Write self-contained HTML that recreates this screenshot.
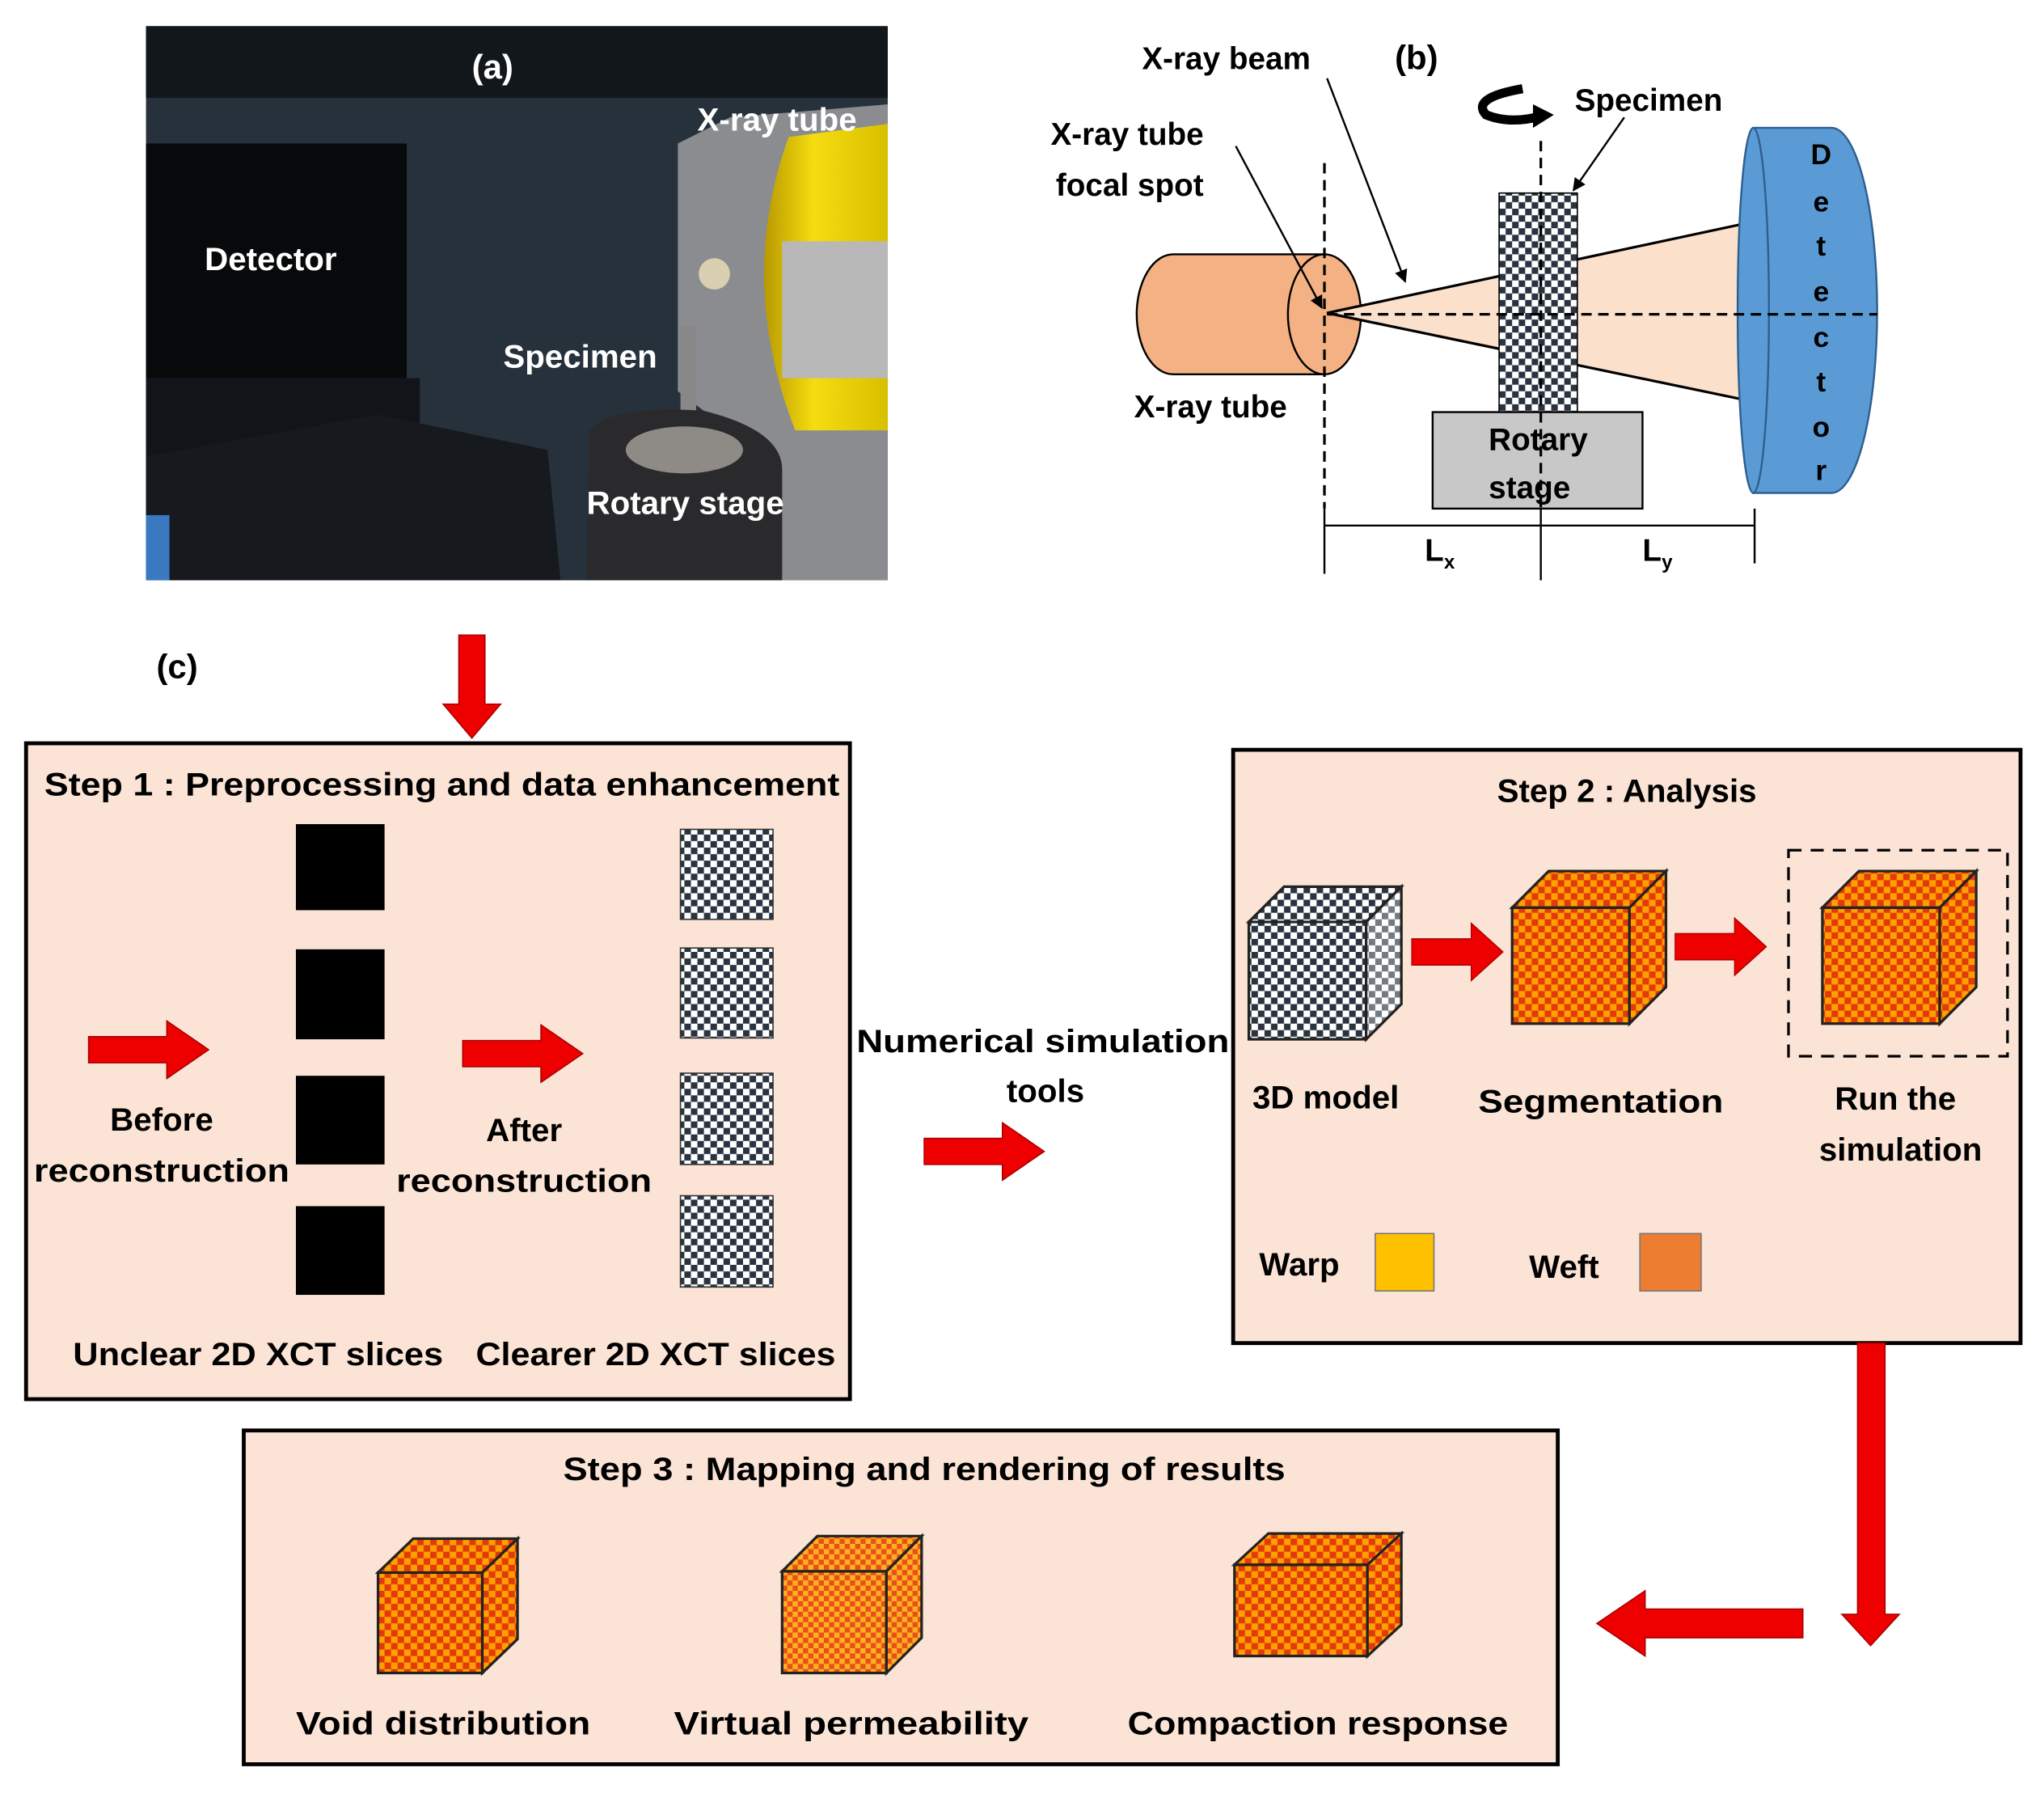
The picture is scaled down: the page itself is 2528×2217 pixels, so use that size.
<!DOCTYPE html>
<html><head><meta charset="utf-8"><style>
html,body{margin:0;padding:0;background:#fff}
svg{display:block}
text{font-family:"Liberation Sans",sans-serif;font-weight:bold}
</style></head><body>
<svg width="2528" height="2217" viewBox="0 0 1568 1375" xmlns="http://www.w3.org/2000/svg">
<defs>
<pattern id="gc" width="10" height="10" patternUnits="userSpaceOnUse"><rect width="10" height="10" fill="#fff"/><rect width="5" height="5" fill="#2a3340"/><rect x="5" y="5" width="5" height="5" fill="#2a3340"/></pattern>
<pattern id="oc" width="10" height="10" patternUnits="userSpaceOnUse"><rect width="10" height="10" fill="#ffa000"/><rect width="5" height="5" fill="#e23a0a"/><rect x="5" y="5" width="5" height="5" fill="#e23a0a"/></pattern>
<pattern id="oc2" width="8" height="8" patternUnits="userSpaceOnUse"><rect width="8" height="8" fill="#ffb020"/><rect width="4" height="4" fill="#e8501a"/><rect x="4" y="4" width="4" height="4" fill="#e8501a"/></pattern>
<linearGradient id="yel" x1="0" x2="1"><stop offset="0" stop-color="#b89a00"/><stop offset=".4" stop-color="#f5dc10"/><stop offset="1" stop-color="#d8c000"/></linearGradient>
<g id="ra"><path d="M0,-10 H60 V-22 L92,0 L60,22 V10 H0 Z" fill="#ee0000" stroke="#a00" stroke-width="1"/></g>
<marker id="ah" markerWidth="10" markerHeight="10" refX="9" refY="5" orient="auto" markerUnits="userSpaceOnUse"><path d="M0,0 L10,5 L0,10 Z" fill="#000"/></marker>
</defs>

<!-- (a) photo -->
<rect x="112" y="20" width="569" height="425" fill="#27313b"/>
<rect x="112" y="20" width="569" height="55" fill="#12171c"/>
<rect x="112" y="110" width="200" height="180" fill="#07090b"/>
<rect x="112" y="290" width="210" height="90" fill="#111418"/>
<polygon points="112,350 290,318 420,345 430,445 112,445" fill="#16191d"/>
<rect x="112" y="395" width="18" height="50" fill="#3a78c0"/>
<polygon points="520,110 560,90 681,80 681,445 600,445 560,330 520,300" fill="#8a8c90"/>
<path d="M605,105 Q565,215 610,330 L681,330 L681,95 Z" fill="url(#yel)"/>
<rect x="600" y="185" width="81" height="105" fill="#b8b8b8"/>
<circle cx="548" cy="210" r="12" fill="#d8d0b0"/>
<rect x="522" y="250" width="12" height="80" fill="#888"/>
<path d="M452,330 Q470,310 540,315 Q600,330 600,360 L600,445 L450,445 Z" fill="#2a2a2c"/>
<ellipse cx="525" cy="345" rx="45" ry="18" fill="#8e8a86"/>
<text x="362" y="60" fill="#fff" font-size="26">(a)</text>
<text x="535" y="100" fill="#fff" font-size="25">X-ray tube</text>
<text x="157" y="207" fill="#fff" font-size="25">Detector</text>
<text x="386" y="282" fill="#fff" font-size="25">Specimen</text>
<text x="450" y="394" fill="#fff" font-size="25">Rotary stage</text>

<!-- (b) -->
<text x="1070" y="53" font-size="26">(b)</text>
<text x="876" y="53" font-size="24">X-ray beam</text>
<text x="806" y="111" font-size="24">X-ray tube</text>
<text x="810" y="150" font-size="24">focal spot</text>
<text x="1208" y="85" font-size="24">Specimen</text>
<text x="870" y="320" font-size="24">X-ray tube</text>
<path d="M900,195 H1016 V287 H900 A28,46 0 0 1 900,195 Z" fill="#f4b183" stroke="#000" stroke-width="1.5"/>
<ellipse cx="1016" cy="241" rx="28" ry="46" fill="#f4b183" stroke="#000" stroke-width="1.5"/>
<polygon points="1018,240 1345,170 1345,308" fill="#fbe0cc" stroke="#000" stroke-width="2"/>
<rect x="1150" y="148" width="60" height="168" fill="url(#gc)" stroke="#000"/>
<rect x="1099" y="316" width="161" height="74" fill="#c8c8c8" stroke="#000" stroke-width="1.5"/>
<text x="1142" y="345" font-size="24">Rotary</text>
<text x="1142" y="382" font-size="24">stage</text>
<path d="M1345,98 H1405 A35,140 0 0 1 1405,378 H1345 Z" fill="#5b9bd5" stroke="#2e5f90" stroke-width="1.5"/>
<ellipse cx="1345" cy="238" rx="12" ry="140" fill="#5b9bd5" stroke="#2e5f90" stroke-width="1.5"/>
<g font-size="22" fill="#000" text-anchor="middle">
<text x="1397" y="126">D</text><text x="1397" y="162">e</text><text x="1397" y="196">t</text><text x="1397" y="231">e</text><text x="1397" y="266">c</text><text x="1397" y="300">t</text><text x="1397" y="335">o</text><text x="1397" y="368">r</text></g>
<g stroke="#000" stroke-width="2" stroke-dasharray="8,5" fill="none">
<line x1="1016" y1="125" x2="1016" y2="390"/><line x1="1182" y1="108" x2="1182" y2="390"/><line x1="1018" y1="241" x2="1440" y2="241"/></g>
<g stroke="#000" stroke-width="1.5">
<line x1="1016" y1="390" x2="1016" y2="440"/><line x1="1182" y1="390" x2="1182" y2="445"/><line x1="1346" y1="390" x2="1346" y2="432"/>
<line x1="1016" y1="403" x2="1346" y2="403"/>
<line x1="948" y1="112" x2="1014" y2="236" marker-end="url(#ah)"/><line x1="1018" y1="60" x2="1078" y2="216" marker-end="url(#ah)"/><line x1="1246" y1="90" x2="1207" y2="146" marker-end="url(#ah)"/></g>
<text x="1093" y="430" font-size="24">L<tspan font-size="15" dy="6">x</tspan></text>
<text x="1260" y="430" font-size="24">L<tspan font-size="15" dy="6">y</tspan></text>
<path d="M1168,68 Q1128,75 1140,88 Q1160,96 1185,88" fill="none" stroke="#000" stroke-width="7"/>
<polygon points="1176,80 1192,88 1176,98" fill="#000"/>

<!-- arrow down to step1 -->
<path d="M352,487 H372 V540 H384 L362,566 L340,540 H352 Z" fill="#ee0000" stroke="#a00"/>
<text x="120" y="520" font-size="26">(c)</text>

<!-- Step1 -->
<rect x="20" y="570" width="632" height="503" fill="#fbe4d5" stroke="#000" stroke-width="3"/>
<text x="34" y="610" font-size="25" textLength="610" lengthAdjust="spacingAndGlyphs">Step 1 : Preprocessing and data enhancement</text>
<g fill="#000"><rect x="227" y="632" width="68" height="66"/><rect x="227" y="728" width="68" height="69"/><rect x="227" y="825" width="68" height="68"/><rect x="227" y="925" width="68" height="68"/></g>
<g fill="url(#gc)" stroke="#333"><rect x="522" y="636" width="71" height="69"/><rect x="522" y="727" width="71" height="69"/><rect x="522" y="823" width="71" height="70"/><rect x="522" y="917" width="71" height="70"/></g>
<use href="#ra" transform="translate(68,805)"/>
<use href="#ra" transform="translate(355,808)"/>
<text x="124" y="867" font-size="25" text-anchor="middle">Before</text>
<text x="124" y="906" font-size="25" text-anchor="middle" textLength="196" lengthAdjust="spacingAndGlyphs">reconstruction</text>
<text x="402" y="875" font-size="25" text-anchor="middle">After</text>
<text x="402" y="914" font-size="25" text-anchor="middle" textLength="196" lengthAdjust="spacingAndGlyphs">reconstruction</text>
<text x="56" y="1047" font-size="25" textLength="284" lengthAdjust="spacingAndGlyphs">Unclear 2D XCT slices</text>
<text x="365" y="1047" font-size="25" textLength="276" lengthAdjust="spacingAndGlyphs">Clearer 2D XCT slices</text>

<text x="800" y="807" font-size="25" text-anchor="middle" textLength="286" lengthAdjust="spacingAndGlyphs">Numerical simulation</text>
<text x="802" y="845" font-size="25" text-anchor="middle">tools</text>
<use href="#ra" transform="translate(709,883)"/>

<!-- Step2 -->
<rect x="946" y="575" width="604" height="455" fill="#fbe4d5" stroke="#000" stroke-width="3"/>
<text x="1248" y="615" font-size="25" text-anchor="middle">Step 2 : Analysis</text>
<g stroke="#222" stroke-width="2">
<rect x="958" y="707" width="90" height="90" fill="url(#gc)"/>
<polygon points="958,707 985,680 1075,680 1048,707" fill="url(#gc)"/>
<polygon points="1048,707 1075,680 1075,770 1048,797" fill="url(#gc)"/>
<polygon points="1048,707 1075,680 1075,770 1048,797" fill="#fff" opacity=".35"/>
<rect x="1160" y="696" width="90" height="89" fill="url(#oc)"/>
<polygon points="1160,696 1188,668 1278,668 1250,696" fill="url(#oc)"/>
<polygon points="1250,696 1278,668 1278,757 1250,785" fill="url(#oc)"/>
<rect x="1398" y="696" width="90" height="89" fill="url(#oc)"/>
<polygon points="1398,696 1426,668 1516,668 1488,696" fill="url(#oc)"/>
<polygon points="1488,696 1516,668 1516,757 1488,785" fill="url(#oc)"/>
</g>
<rect x="1372" y="652" width="168" height="158" fill="none" stroke="#000" stroke-width="2" stroke-dasharray="10,7"/>
<use href="#ra" transform="translate(1083,730) scale(0.76,1)"/>
<use href="#ra" transform="translate(1285,726) scale(0.76,1)"/>
<text x="1017" y="850" font-size="25" text-anchor="middle">3D model</text>
<text x="1228" y="853" font-size="25" text-anchor="middle" textLength="188" lengthAdjust="spacingAndGlyphs">Segmentation</text>
<text x="1454" y="851" font-size="25" text-anchor="middle">Run the</text>
<text x="1458" y="890" font-size="25" text-anchor="middle">simulation</text>
<text x="966" y="978" font-size="25">Warp</text>
<rect x="1055" y="946" width="45" height="44" fill="#ffc000" stroke="#777"/>
<text x="1173" y="980" font-size="25">Weft</text>
<rect x="1258" y="946" width="47" height="44" fill="#ed7d31" stroke="#777"/>

<!-- down & left arrows -->
<path d="M1425,1030 H1446 V1238 H1457 L1435,1262 L1413,1238 H1425 Z" fill="#ee0000" stroke="#a00"/>
<path d="M1383,1234 V1256 H1262 V1270 L1225,1245 L1262,1220 V1234 Z" fill="#ee0000" stroke="#a00"/>

<!-- Step3 -->
<rect x="187" y="1097" width="1008" height="256" fill="#fbe4d5" stroke="#000" stroke-width="3"/>
<text x="709" y="1135" font-size="25" text-anchor="middle" textLength="554" lengthAdjust="spacingAndGlyphs">Step 3 : Mapping and rendering of results</text>
<g stroke="#222" stroke-width="2">
<rect x="290" y="1206" width="80" height="77" fill="url(#oc)"/>
<polygon points="290,1206 317,1180 397,1180 370,1206" fill="url(#oc)"/>
<polygon points="370,1206 397,1180 397,1257 370,1283" fill="url(#oc)"/>
<rect x="600" y="1205" width="80" height="78" fill="url(#oc2)"/>
<polygon points="600,1205 627,1178 707,1178 680,1205" fill="url(#oc2)"/>
<polygon points="680,1205 707,1178 707,1256 680,1283" fill="url(#oc2)"/>
<rect x="947" y="1200" width="102" height="70" fill="url(#oc)"/>
<polygon points="947,1200 973,1176 1075,1176 1049,1200" fill="url(#oc)"/>
<polygon points="1049,1200 1075,1176 1075,1246 1049,1270" fill="url(#oc)"/>
</g>
<text x="340" y="1330" font-size="25" text-anchor="middle" textLength="226" lengthAdjust="spacingAndGlyphs">Void distribution</text>
<text x="653" y="1330" font-size="25" text-anchor="middle" textLength="272" lengthAdjust="spacingAndGlyphs">Virtual permeability</text>
<text x="1011" y="1330" font-size="25" text-anchor="middle" textLength="292" lengthAdjust="spacingAndGlyphs">Compaction response</text>
</svg>
</body></html>
